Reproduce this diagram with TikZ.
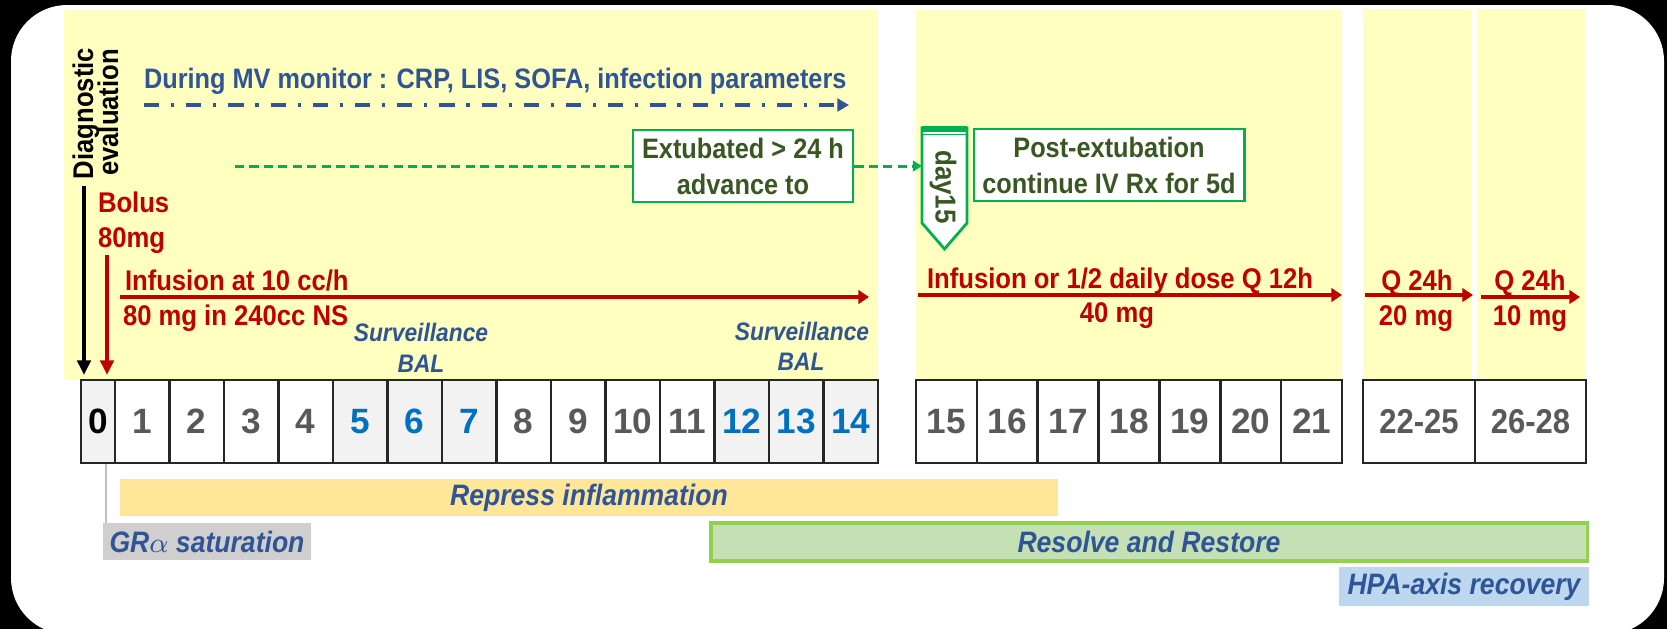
\documentclass[tikz,border=0pt]{standalone}
\usepackage{fontspec}
\setmainfont{Liberation Sans}[FakeStretch=0.9]
\newfontfamily\numfont{Liberation Sans}
\usetikzlibrary{arrows.meta,calc}

\definecolor{panel}{HTML}{FFFFC0}
\definecolor{dred}{HTML}{C00000}
\definecolor{mblue}{HTML}{2F5597}
\definecolor{nblue}{HTML}{0070C0}
\definecolor{ngray}{HTML}{595959}
\definecolor{cellgray}{HTML}{F2F2F2}
\definecolor{bgreen}{HTML}{00B050}
\definecolor{tgreen}{HTML}{385723}
\definecolor{repress}{HTML}{FFE699}
\definecolor{resolvefill}{HTML}{C5E0B4}
\definecolor{resolveedge}{HTML}{92D050}
\definecolor{grfill}{HTML}{D0CECE}
\definecolor{hpafill}{HTML}{BDD7EE}
\definecolor{gline}{HTML}{BFBFBF}

\newcommand{\fsz}[2]{\fontsize{#1pt}{#2pt}\selectfont\bfseries}

\tikzset{
  txt/.style={inner sep=0pt, outer sep=0pt},
  redtxt/.style={txt, text=dred, font=\fsz{8.1}{9}},
  baltxt/.style={txt, text=mblue, font=\fsz{7.2}{8}\itshape},
  diagtxt/.style={txt, text=black, font=\fsz{8.1}{9}, rotate=90, anchor=base east},
  cell/.style={draw=black!85, line width=0.7pt, inner sep=0pt, outer sep=0pt,
    minimum height=0.83cm, font=\numfont\fsz{10}{11}, text=ngray},
  widecell/.style={cell, font=\fsz{9.8}{11}},
  plain/.style={fill=white},
  hl/.style={fill=cellgray, text=nblue},
  gbox/.style={draw=bgreen, line width=0.8pt, fill=white, text=tgreen,
    font=\fsz{8}{10.2}, align=center, inner sep=0pt},
  phase/.style={inner sep=0pt, outer sep=0pt, text=mblue, font=\fsz{8.4}{9}\itshape},
  redarrow/.style={dred, line width=1.1pt, -{Triangle[length=3.0pt,width=3.8pt]}},
  downarrow/.style={line width=1.2pt, -{Triangle[length=4.2pt,width=3.8pt]}},
  mvline/.style={mblue, line width=0.9pt, dash pattern=on 4.3pt off 3.4pt on 0.9pt off 3.4pt,
    -{Triangle[length=3.3pt,width=3.6pt]}},
  gdash/.style={bgreen, line width=0.85pt, dash pattern=on 2.6pt off 1.5pt},
}

\begin{document}
\begin{tikzpicture}[x=0.01cm, y=-0.01cm]
\useasboundingbox (0,0) rectangle (1667,629);
% frame
\fill[black] (0,0) rectangle (1667,629);
\fill[white, rounded corners=0.56cm] (11,5) rectangle (1664,634);

% shaded phases
\fill[panel] (64,10) rectangle (878,380);
\fill[panel] (916,10) rectangle (1342,380);
\fill[panel] (1363,9) rectangle (1471,380);
\fill[panel] (1477,9) rectangle (1586,380);

% day cells
\node[cell, fill=cellgray, text=black, minimum width=0.34cm] (c0) at (98,421.5) {0};
\foreach \k/\st in {1/plain,2/plain,3/plain,4/plain,5/hl,6/hl,7/hl,8/plain,9/plain,10/plain,11/plain,12/hl,13/hl,14/hl} {
  \pgfmathsetmacro{\cx}{115+(\k-0.5)*54.5}
  \node[cell, \st, minimum width=0.545cm] (c\k) at (\cx,421.5) {\k};
}
\foreach \k in {15,...,21} {
  \pgfmathsetmacro{\cx}{916+(\k-15+0.5)*60.857}
  \node[cell, plain, minimum width=0.6086cm] (c\k) at (\cx,421.5) {\k};
}
\node[widecell, plain, minimum width=1.12cm] (c22) at (1419,421.5) {22-25};
\node[widecell, plain, minimum width=1.11cm] (c26) at (1530.5,421.5) {26-28};

% diagnostic evaluation and bolus
\node[diagtxt] (diag) at (93,48) {Diagnostic};
\node[diagtxt] (evalu) at (118,49) {evaluation};
\coordinate (diagS) at (84,186);
\coordinate (diagE) at (84,375);
\draw[downarrow, black] (diagS) -- (diagE);

\node[redtxt, anchor=base west] (bolus) at (98,212) {Bolus};
\node[redtxt, anchor=base west] (bolusmg) at (98,247) {80mg};
\coordinate (bolS) at (107,255);
\coordinate (bolE) at (107,375);
\draw[downarrow, dred] (bolS) -- (bolE);

% monitoring during MV
\node[txt, anchor=base west, text=mblue, font=\fsz{8}{9}] (mv) at (144,88)
  {During MV monitor : CRP, LIS, SOFA, infection parameters};
\coordinate (mvS) at (144,105);
\coordinate (mvE) at (849,105);
\draw[mvline] (mvS) -- (mvE);

% extubation path
\node[gbox, minimum width=2.20cm, minimum height=0.72cm] (ext) at (743,166)
  {Extubated > 24 h\\advance to};
\coordinate (gS) at (235,166);
\draw[gdash] (gS) -- (ext.west);

\path[draw=bgreen, line width=0.8pt, fill=white]
  (922,128) -- (922,223) -- (944.5,249) -- (967,223) -- (967,128) -- cycle;
\draw[bgreen, line width=1.6pt] (922,129) -- (967,129);
\draw[bgreen, line width=0.5pt] (922,134.5) -- (967,134.5);
\node[txt, text=tgreen, font=\fsz{8.2}{9}, rotate=-90] (day) at (943,187) {day15};
\coordinate (dayW) at (922,166);
\draw[gdash, -{Triangle[length=2.6pt,width=3.0pt]}] (ext.east) -- (dayW);

\node[gbox, minimum width=2.70cm, minimum height=0.72cm] (post) at (1109,165)
  {Post-extubation\\continue IV Rx for 5d};

% infusion regimen
\node[redtxt, anchor=base west] (inf1) at (125,290) {Infusion at 10 cc/h};
\node[redtxt, anchor=base west] (inf1b) at (123,325) {80 mg in 240cc NS};
\coordinate (inf1S) at (120,297);
\coordinate (inf1E) at (869,297);
\draw[redarrow] (inf1S) -- (inf1E);

\node[redtxt, anchor=base west] (inf2) at (927,288) {Infusion or 1/2 daily dose Q 12h};
\node[redtxt, anchor=base] (inf2b) at (1117,322) {40 mg};
\coordinate (inf2S) at (918,295);
\coordinate (inf2E) at (1342,295);
\draw[redarrow] (inf2S) -- (inf2E);

\node[redtxt, anchor=base] (q1) at (1417,290) {Q 24h};
\node[redtxt, anchor=base] (q1b) at (1416,325) {20 mg};
\coordinate (q1S) at (1365,295);
\coordinate (q1E) at (1473,295);
\draw[redarrow] (q1S) -- (q1E);

\node[redtxt, anchor=base] (q2) at (1530,290) {Q 24h};
\node[redtxt, anchor=base] (q2b) at (1530,325) {10 mg};
\coordinate (q2S) at (1481,297);
\coordinate (q2E) at (1580,297);
\draw[redarrow] (q2S) -- (q2E);

% surveillance BAL
\node[baltxt, anchor=base] (bal1) at (421,341) {Surveillance};
\node[baltxt, anchor=base] (bal1b) at (421,372) {BAL};
\node[baltxt, anchor=base] (bal2) at (802,340) {Surveillance};
\node[baltxt, anchor=base] (bal2b) at (801,370) {BAL};

% phases of action
\node[phase, fill=repress, minimum width=9.38cm, minimum height=0.37cm] (rep) at (589,497.5)
  {Repress inflammation};
\node[phase, fill=resolvefill, draw=resolveedge, line width=1pt,
  minimum width=8.76cm, minimum height=0.38cm] (res) at (1149,542)
  {Resolve and Restore};
\node[phase, fill=grfill, minimum width=2.08cm, minimum height=0.37cm] (gr) at (207,541.5)
  {GR$\alpha$ saturation};
\node[phase, fill=hpafill, minimum width=2.50cm, minimum height=0.39cm] (hpa) at (1464,586.5)
  {HPA-axis recovery};
\coordinate (gx) at (106,464);
\draw[gline, line width=0.7pt] (gx) -- (gx |- gr.north);
\end{tikzpicture}
\end{document}
